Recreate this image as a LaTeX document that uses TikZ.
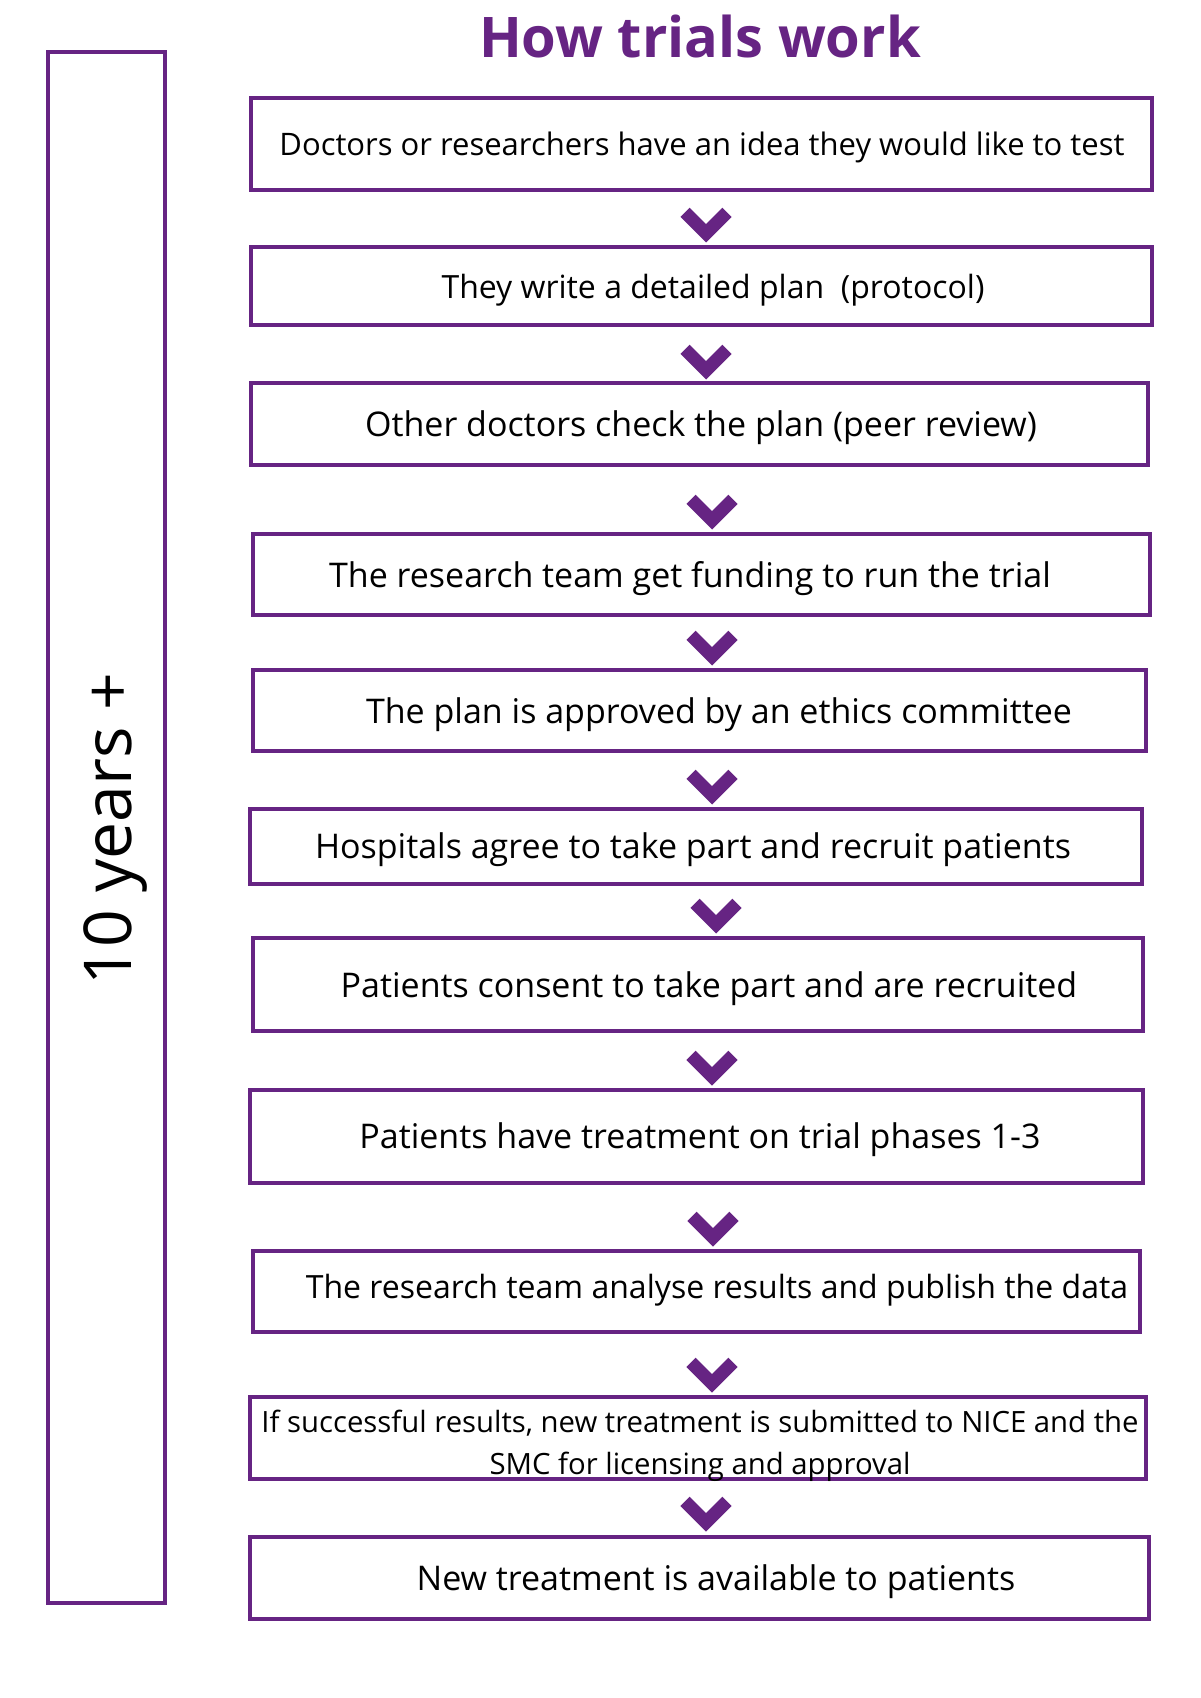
\documentclass[tikz,border=0pt]{standalone}
\usepackage{fontspec}
\setmainfont{Open Sans}
\definecolor{tpurple}{RGB}{102,36,131}
\begin{document}
\begin{tikzpicture}[x=1pt,y=-1pt,
  box/.style={draw=tpurple,line width=4pt,inner sep=0pt},
  txt/.style={inner sep=0pt,font=\fontsize{34}{40}\selectfont,text=black},
  chev/.style={draw=tpurple,line width=13pt,line join=miter,line cap=butt}]
\useasboundingbox (0,0) rectangle (1200,1698);
\node[inner sep=0pt,text=tpurple,font=\bfseries\fontsize{56}{60}\selectfont] (title) at (700,36) {How trials work};
\node[box,minimum width=117,minimum height=1551] (side) at (106.5,827.5) {};
\node[inner sep=0pt,rotate=90,font=\fontsize{66}{70}\selectfont] (years) at (115,829) {10 years +};
% boxes
\node[box,minimum width=901,minimum height=92] (b1) at (701.5,143.5) {};
\node[box,minimum width=901,minimum height=78] (b2) at (701.5,286) {};
\node[box,minimum width=897,minimum height=82] (b3) at (699.5,424) {};
\node[box,minimum width=897,minimum height=81] (b4) at (701.5,574.5) {};
\node[box,minimum width=893,minimum height=81] (b5) at (699.5,710.5) {};
\node[box,minimum width=892,minimum height=75] (b6) at (696,846.5) {};
\node[box,minimum width=890,minimum height=93] (b7) at (698,984.5) {};
\node[box,minimum width=893,minimum height=93] (b8) at (696.5,1136.5) {};
\node[box,minimum width=887,minimum height=81] (b9) at (696.5,1291.5) {};
\node[box,minimum width=896,minimum height=82] (b10) at (698,1438) {};
\node[box,minimum width=899,minimum height=82] (b11) at (699.5,1578) {};
% texts
\node[txt,font=\fontsize{31}{36}\selectfont] (t1) at (702,147) {Doctors or researchers have an idea they would like to test};
\node[txt,font=\fontsize{32}{38}\selectfont] (t2) at (713,290) {They write a detailed plan\ \ (protocol)};
\node[txt] (t3) at (701,428) {Other doctors check the plan (peer review)};
\node[txt] (t4) at (690,579) {The research team get funding to run the trial};
\node[txt] (t5) at (719,715) {The plan is approved by an ethics committee};
\node[txt] (t6) at (693,850) {Hospitals agree to take part and recruit patients};
\node[txt] (t7) at (709,989) {Patients consent to take part and are recruited};
\node[txt] (t8) at (700,1140) {Patients have treatment on trial phases 1-3};
\node[txt,font=\fontsize{32}{38}\selectfont] (t9) at (717,1290) {The research team analyse results and publish the data};
\node[txt,font=\fontsize{29.3}{42}\selectfont,align=center] (t10) at (700,1446) {If successful results, new treatment is submitted to NICE and the\\SMC for licensing and approval};
\node[txt] (t11) at (716,1582) {New treatment is available to patients};
% chevrons
\foreach \n/\cx/\cy in {c1/706/225,c2/706/362,c3/712/512,c4/712/648,c5/712/787,c6/716/916,c7/712/1068,c8/713/1229,c9/712/1375,c10/706/1514}{
  \coordinate (\n) at (\cx,\cy+8.3);
  \draw[chev] ([shift={(-21,-21)}]\n) -- (\n) -- ([shift={(21,-21)}]\n);
}
\end{tikzpicture}
\end{document}
